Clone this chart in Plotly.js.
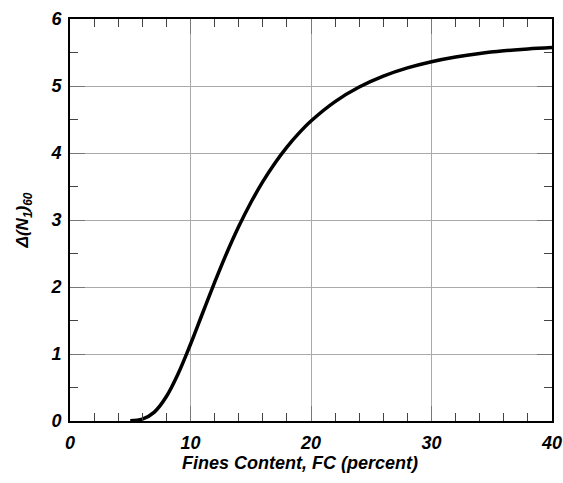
<!DOCTYPE html>
<html><head><meta charset="utf-8">
<script src="https://cdn.plot.ly/plotly-3.0.1.min.js"></script>
<style>html,body{margin:0;padding:0;background:#fff}#c{width:563px;height:483px}</style>
</head><body><div id="c"></div>
<script>
const fc = [5, 6, 7, 8, 9, 10, 11, 12, 13, 14, 15, 16, 17, 18, 19, 20, 22, 24, 26, 28, 30, 32, 34, 36, 38, 40];
const dN = [0.002, 0.027, 0.133, 0.365, 0.715, 1.145, 1.608, 2.068, 2.504, 2.902, 3.258, 3.573, 3.848, 4.088, 4.296, 4.477, 4.767, 4.984, 5.147, 5.270, 5.363, 5.433, 5.486, 5.525, 5.554, 5.575];
const xTicks = [0, 10, 20, 30, 40];
const yTicks = [0, 1, 2, 3, 4, 5, 6];
const xTitle = 'Fines Content, FC (percent)';
const yTitle = 'Δ(N<sub>1</sub>)<sub>60</sub>';
const fam = 'Liberation Sans, Arial, sans-serif';
const trace = {x: fc, y: dN, mode: 'lines', line: {color: '#000', width: 3.5, shape: 'spline'}, hoverinfo: 'skip'};
const axBase = {
  showline: true, linecolor: '#000', linewidth: 2, mirror: 'ticks',
  ticks: 'inside', ticklen: 15, tickwidth: 1, tickcolor: '#777',
  showgrid: true, gridcolor: '#aaa', gridwidth: 1, zeroline: false,
  tickfont: {family: fam, size: 18, color: '#000', weight: 'bold', style: 'italic'}
};
const layout = {
  width: 563, height: 483,
  margin: {l: 70, r: 11, t: 19, b: 62},
  paper_bgcolor: '#fff', plot_bgcolor: '#fff',
  showlegend: false,
  xaxis: Object.assign({}, axBase, {
    range: [0, 40], tickvals: xTicks, ticktext: xTicks.map(String), ticklabelstandoff: 4,
    minor: {dtick: 2, ticks: 'inside', ticklen: 8, tickcolor: '#444', tickwidth: 1, showgrid: false}
  }),
  yaxis: Object.assign({}, axBase, {
    range: [0, 6], tickvals: yTicks, ticktext: yTicks.map(String), ticklabelstandoff: 3,
    minor: {dtick: 0.5, ticks: 'inside', ticklen: 8, tickcolor: '#444', tickwidth: 1, showgrid: false},
    title: {text: yTitle, standoff: 17, font: {family: fam, size: 17, color: '#000', weight: 'bold', style: 'italic'}}
  }),
  annotations: [{
    text: xTitle, xref: 'paper', yref: 'paper', x: 0.477, y: -0.104,
    xanchor: 'center', yanchor: 'middle', showarrow: false,
    font: {family: fam, size: 18, color: '#000', weight: 'bold', style: 'italic'}
  }]
};
Plotly.newPlot('c', [trace], layout, {displayModeBar: false, staticPlot: true});
</script></body></html>
